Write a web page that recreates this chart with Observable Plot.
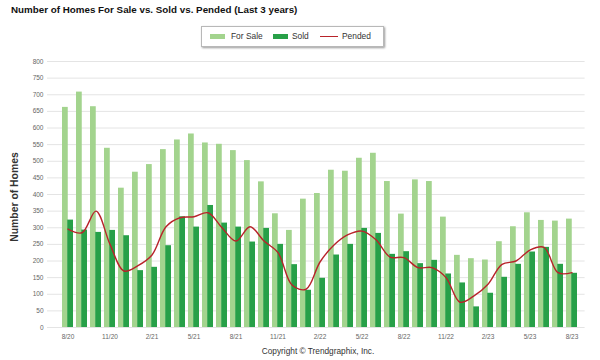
<!DOCTYPE html>
<html><head><meta charset="utf-8">
<script src="https://cdn.jsdelivr.net/npm/d3@7"></script>
<script src="https://cdn.jsdelivr.net/npm/@observablehq/plot@0.6"></script>
<style>
body{margin:0;background:#fff;font-family:"Liberation Sans",Arial,sans-serif;}
#wrap{position:relative;width:600px;height:360px;overflow:hidden;background:#fff;}
#title{position:absolute;left:11px;top:4px;font-weight:bold;font-size:9.8px;color:#111;white-space:nowrap;}
#legend{position:absolute;left:201px;top:26px;width:181px;height:19px;border:1px solid #b8b8b8;box-shadow:1px 1px 2px #999;background:#fff;font-size:8.4px;color:#333;}
#legend .sw{position:absolute;top:7px;width:15px;height:5px;}
#legend .tx{position:absolute;top:4px;white-space:nowrap;}
#legend .ln{position:absolute;top:9px;width:18px;height:0;border-top:1.5px solid #b8232a;}
#ylabel{position:absolute;left:14px;top:197px;transform:translate(-50%,-50%) rotate(-90deg);font-weight:bold;font-size:10.4px;color:#333;white-space:nowrap;}
#chart{position:absolute;left:0;top:50px;}
#caption{position:absolute;left:0;width:636px;top:346px;text-align:center;font-size:8.3px;color:#333;}
</style>
</head><body>
<div id="wrap">
  <div id="title">Number of Homes For Sale vs. Sold vs. Pended (Last 3 years)</div>
  <div id="legend">
    <div class="sw" style="left:8px;background:#a3d48e"></div><div class="tx" style="left:29px">For Sale</div>
    <div class="sw" style="left:71px;background:#27a048"></div><div class="tx" style="left:90px">Sold</div>
    <div class="ln" style="left:118px"></div><div class="tx" style="left:140px">Pended</div>
  </div>
  <div id="ylabel">Number of Homes</div>
  <div id="chart"></div>
  <div id="caption">Copyright © Trendgraphix, Inc.</div>
</div>
<script>
const months = ["8/20","9/20","10/20","11/20","12/20","1/21","2/21","3/21","4/21","5/21","6/21","7/21",
  "8/21","9/21","10/21","11/21","12/21","1/22","2/22","3/22","4/22","5/22","6/22","7/22",
  "8/22","9/22","10/22","11/22","12/22","1/23","2/23","3/23","4/23","5/23","6/23","7/23","8/23"];
const xTicks = ["8/20","11/20","2/21","5/21","8/21","11/21","2/22","5/22","8/22","11/22","2/23","5/23","8/23"];
const yTicks = [0,50,100,150,200,250,300,350,400,450,500,550,600,650,700,750,800];
const forSale = [662,708,664,539,419,467,490,535,564,582,555,551,532,502,438,342,292,386,403,473,470,509,524,439,341,444,439,332,217,207,203,258,303,345,322,320,326];
const sold = [323,293,286,292,276,171,181,246,333,302,367,314,302,257,298,250,189,112,148,218,250,298,283,220,228,192,202,161,134,62,103,151,190,227,241,190,163];
const pended = [296,285,350,250,170,186,218,303,330,333,345,300,260,303,260,225,128,115,197,248,279,290,264,212,210,180,180,150,76,95,130,190,200,233,241,165,165];

const data = months.map((m, i) => ({month: m, forSale: forSale[i], sold: sold[i], pended: pended[i]}));

const chart = Plot.plot({
  width: 600, height: 300,
  marginLeft: 58, marginRight: 20.4, marginTop: 11, marginBottom: 23,
  style: {fontFamily: "Liberation Sans, Arial, sans-serif", fontSize: "6.5px", color: "#666", background: "transparent"},
  x: {type: "band", domain: months, paddingInner: 0.25, paddingOuter: 0.2, ticks: xTicks, tickSize: 0, tickPadding: 6.5, label: null},
  y: {domain: [0, 800], ticks: yTicks, tickSize: 0, tickPadding: 15, label: null},
  marks: [
    Plot.ruleY(yTicks, {stroke: "#e4e4e4", insetLeft: -11, insetRight: -5}),
    Plot.barY(data, {x: "month", y: "forSale", fill: "#a3d48e", insetLeft: 0, insetRight: 5.25}),
    Plot.barY(data, {x: "month", y: "sold", fill: "#27a048", insetLeft: 5.25, insetRight: 0}),
    Plot.line(data, {x: "month", y: "pended", stroke: "#b8232a", strokeWidth: 1.4, curve: "catmull-rom"})
  ]
});
document.getElementById("chart").appendChild(chart);
</script>
</body></html>
